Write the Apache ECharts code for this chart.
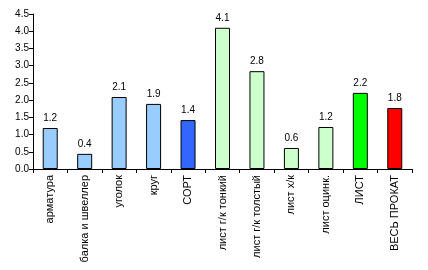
<!DOCTYPE html>
<html><head><meta charset="utf-8">
<script src="https://cdn.jsdelivr.net/npm/echarts@6/dist/echarts.min.js"></script>
<style>html,body{margin:0;padding:0;background:#fff}#c{width:428px;height:270px}</style>
</head><body><div id="c"></div>
<script>
const categories = ["арматура","балка и швеллер","уголок","круг","СОРТ","лист г/к тонкий","лист г/к толстый","лист х/к","лист оцинк.","ЛИСТ","ВЕСЬ ПРОКАТ"];
const values = [1.19,0.44,2.09,1.89,1.42,4.10,2.84,0.61,1.22,2.21,1.77];
const barColors = ["#99CCFF","#99CCFF","#99CCFF","#99CCFF","#3366FF","#CCFFCC","#CCFFCC","#CCFFCC","#CCFFCC","#00FF00","#FF0000"];
const yTicks = [0,0.5,1,1.5,2,2.5,3,3.5,4,4.5];

const chart = echarts.init(document.getElementById('c'), null, {renderer:'canvas'});
const font = 'Liberation Sans, Arial, sans-serif';
chart.setOption({
  animation:false,
  grid:{left:33,right:16,top:14,bottom:101,containLabel:false},
  xAxis:{type:'category',data:categories,
    axisLine:{lineStyle:{color:'#000',width:1}},
    axisTick:{show:true,length:4,lineStyle:{color:'#000'}},
    axisLabel:{rotate:90,color:'#000',fontSize:11,fontFamily:font,margin:6,interval:0}
  },
  yAxis:{type:'value',min:0,max:4.5,interval:0.5,
    axisLine:{show:true,lineStyle:{color:'#000',width:1}},
    axisTick:{show:true,length:4,lineStyle:{color:'#000'}},
    splitLine:{show:false},
    axisLabel:{color:'#000',fontSize:10,fontFamily:font,margin:4,formatter:v=>v.toFixed(1)}
  },
  series:[{type:'bar',barWidth:15,
    data:values.map((v,i)=>({value:v,itemStyle:{color:barColors[i]}})),
    itemStyle:{borderColor:'#000',borderWidth:1},
    label:{show:true,position:'top',distance:5,color:'#000',fontSize:10,fontFamily:font,formatter:p=>p.value.toFixed(1)}
  }]
});
</script></body></html>
